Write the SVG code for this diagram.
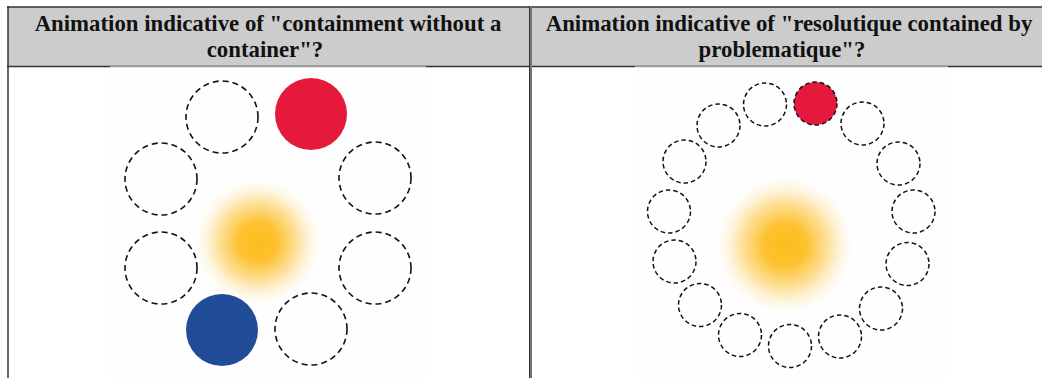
<svg xmlns="http://www.w3.org/2000/svg" width="1042" height="378" viewBox="0 0 1042 378">
<style>
.hdr{fill:#cccccc}
.t{font-family:'Liberation Serif','Times New Roman','DejaVu Serif',serif;font-weight:700;font-size:22.8px;fill:#111;text-anchor:middle}
.dL{fill:none;stroke:#111;stroke-width:1.6;stroke-dasharray:6 4}
.dS{fill:none;stroke:#111;stroke-width:1.5;stroke-dasharray:4.5 3}
</style>
<defs>
<radialGradient id="glow" cx="0.5" cy="0.5" r="0.5">
<stop offset="0" stop-color="#fcbc1c"/>
<stop offset="0.3" stop-color="#fcbf25" stop-opacity="0.95"/>
<stop offset="0.6" stop-color="#fdc84a" stop-opacity="0.55"/>
<stop offset="0.82" stop-color="#fde3a0" stop-opacity="0.25"/>
<stop offset="1" stop-color="#ffffff" stop-opacity="0"/>
</radialGradient>
</defs>
<rect width="1042" height="378" fill="#ffffff"/>
<g id="table">
<rect class="hdr" x="8" y="7" width="522" height="60"/>
<rect class="hdr" x="532" y="7" width="510" height="60"/>
<line x1="7" y1="7" x2="1042" y2="7" stroke="#333" stroke-width="1.5"/>
<line x1="7" y1="66.5" x2="1042" y2="66.5" stroke="#333" stroke-width="1.5"/>
<line x1="8" y1="6" x2="8" y2="378" stroke="#333" stroke-width="1.5"/>
<line x1="530.5" y1="6" x2="530.5" y2="378" stroke="#777" stroke-width="3"/>
<line x1="529.5" y1="6" x2="529.5" y2="378" stroke="#333" stroke-width="1"/>
</g>
<g id="header-left">
<text class="t" x="268" y="31">Animation indicative of "containment without a</text>
<text class="t" x="265" y="57">container"?</text>
</g>
<g id="header-right">
<text class="t" x="789" y="31">Animation indicative of "resolutique contained by</text>
<text class="t" x="782" y="57">problematique"?</text>
</g>
<g id="image-left">
<rect x="110" y="67" width="316" height="311" fill="#fefefe"/>
<line x1="110" y1="66.5" x2="426" y2="66.5" stroke="#999" stroke-width="1.5"/>
<circle cx="258" cy="242" r="66" fill="url(#glow)"/>
<circle class="dL" cx="222" cy="117" r="36"/>
<circle cx="311" cy="114" r="36" fill="#e4193b"/>
<circle class="dL" cx="161" cy="179" r="36"/>
<circle class="dL" cx="375" cy="178" r="36"/>
<circle class="dL" cx="161" cy="268" r="36"/>
<circle class="dL" cx="375" cy="268" r="36"/>
<circle cx="222" cy="330" r="36" fill="#214c98"/>
<circle class="dL" cx="311" cy="329" r="36"/>
</g>
<g id="image-right">
<rect x="635" y="67" width="313" height="311" fill="#fefefe"/>
<line x1="635" y1="66.5" x2="948" y2="66.5" stroke="#999" stroke-width="1.5"/>
<circle cx="785" cy="245" r="72" fill="url(#glow)"/>
<circle cx="815.5" cy="103.5" r="21.5" fill="#e4193b"/>
<circle class="dS" cx="815.5" cy="103.5" r="21.5"/>
<circle class="dS" cx="765" cy="104.5" r="21.5"/>
<circle class="dS" cx="718.5" cy="125.5" r="21.5"/>
<circle class="dS" cx="684.5" cy="161.5" r="21.5"/>
<circle class="dS" cx="669" cy="211.5" r="21.5"/>
<circle class="dS" cx="674.5" cy="261.5" r="21.5"/>
<circle class="dS" cx="700" cy="305" r="21.5"/>
<circle class="dS" cx="740" cy="335" r="21.5"/>
<circle class="dS" cx="790" cy="346" r="21.5"/>
<circle class="dS" cx="840" cy="336.5" r="21.5"/>
<circle class="dS" cx="881" cy="308.5" r="21.5"/>
<circle class="dS" cx="907.5" cy="264" r="21.5"/>
<circle class="dS" cx="913.5" cy="211.5" r="21.5"/>
<circle class="dS" cx="898.5" cy="163.5" r="21.5"/>
<circle class="dS" cx="862.5" cy="123.5" r="21.5"/>
</g>
</svg>
